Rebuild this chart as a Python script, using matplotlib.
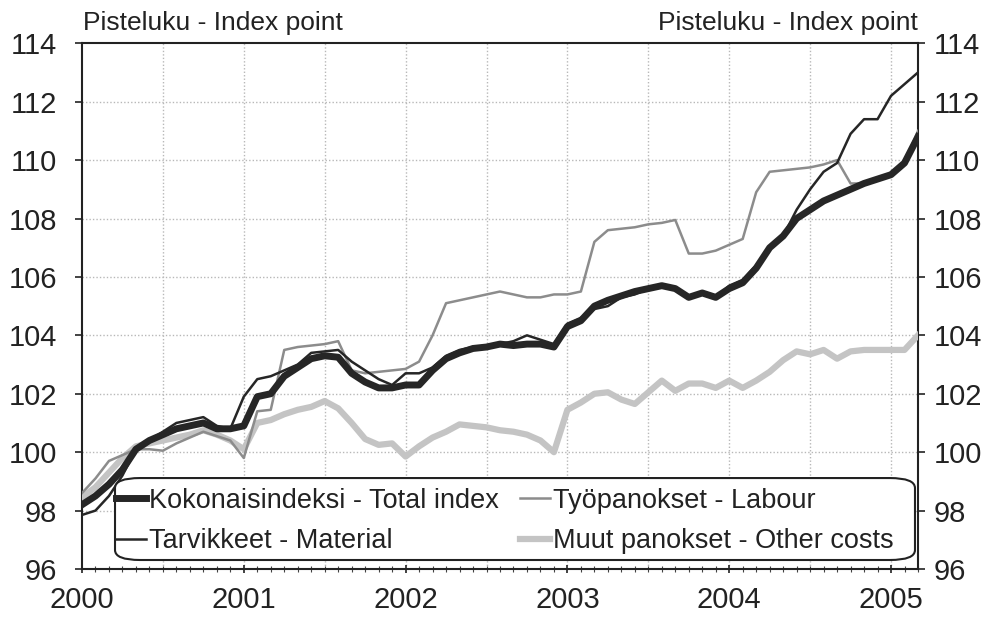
import matplotlib
matplotlib.use("Agg")
import matplotlib.pyplot as plt
from matplotlib.patches import FancyBboxPatch
import numpy as np

plt.rcParams['font.family'] = ['Liberation Sans', 'DejaVu Sans']

years = ["2000", "2001", "2002", "2003", "2004", "2005"]

total = [98.2, 98.5, 98.9, 99.4, 100.1, 100.4, 100.6, 100.8, 100.9, 101.0, 100.8, 100.8,
         100.9, 101.9, 102.0, 102.6, 102.9, 103.2, 103.3, 103.25, 102.7, 102.4, 102.2, 102.2,
         102.3, 102.3, 102.8, 103.2, 103.4, 103.55, 103.6, 103.7, 103.65, 103.7, 103.7, 103.6,
         104.3, 104.5, 105.0, 105.2, 105.35, 105.5, 105.6, 105.7, 105.6, 105.3, 105.45, 105.3,
         105.6, 105.8, 106.3, 107.0, 107.4, 108.0, 108.3, 108.6, 108.8, 109.0, 109.2, 109.35,
         109.5, 109.9, 110.8]

material = [97.85, 98.0, 98.5, 99.2, 100.1, 100.4, 100.7, 101.0, 101.1, 101.2, 100.9, 100.8,
            101.9, 102.5, 102.6, 102.8, 103.0, 103.4, 103.45, 103.5, 103.1, 102.8, 102.5, 102.3,
            102.7, 102.7, 102.9, 103.3, 103.5, 103.6, 103.65, 103.7, 103.8, 104.0, 103.85, 103.7,
            104.4, 104.6, 104.9, 105.0, 105.3, 105.4, 105.6, 105.7, 105.6, 105.3, 105.4, 105.3,
            105.7, 105.9, 106.4, 107.0, 107.4, 108.3, 109.0, 109.6, 109.9, 110.9, 111.4, 111.4,
            112.2, 112.6, 113.0]

labour = [98.6, 99.1, 99.7, 99.9, 100.1, 100.1, 100.05, 100.3, 100.5, 100.7, 100.55, 100.4,
          99.8, 101.4, 101.45, 103.5, 103.6, 103.65, 103.7, 103.8, 102.8, 102.7, 102.75, 102.8,
          102.85, 103.1, 104.0, 105.1, 105.2, 105.3, 105.4, 105.5, 105.4, 105.3, 105.3, 105.4,
          105.4, 105.5, 107.2, 107.6, 107.65, 107.7, 107.8, 107.85, 107.95, 106.8, 106.8, 106.9,
          107.1, 107.3, 108.9, 109.6, 109.65, 109.7, 109.75, 109.85, 110.0, 109.2, 109.2, 109.35,
          109.45, 109.9, 111.0]

other = [98.45, 98.8, 99.3, 99.8, 100.2, 100.3, 100.4, 100.5, 100.6, 100.75, 100.6, 100.4,
         100.1, 101.0, 101.1, 101.3, 101.45, 101.55, 101.75, 101.5, 101.0, 100.45, 100.25, 100.3,
         99.85, 100.2, 100.5, 100.7, 100.95, 100.9, 100.85, 100.75, 100.7, 100.6, 100.4, 100.0,
         101.45, 101.7, 102.0, 102.05, 101.8, 101.65, 102.05, 102.45, 102.1, 102.35, 102.35, 102.2,
         102.45, 102.2, 102.45, 102.75, 103.15, 103.45, 103.35, 103.5, 103.2, 103.45, 103.5, 103.5,
         103.5, 103.5, 104.0]

months = np.arange(len(total))
txt = '#222222'

fig = plt.figure(figsize=(9.95, 6.18), dpi=100)
ax = fig.add_axes([0.0824, 0.0793, 0.8402, 0.8507])

l_other, = ax.plot(months, other, color='#c4c4c4', lw=4.5, zorder=3,
                   label='Muut panokset - Other costs')
l_lab, = ax.plot(months, labour, color='#8c8c8c', lw=1.8, zorder=4, label='Työpanokset - Labour')
l_mat, = ax.plot(months, material, color='#262626', lw=1.8, zorder=6, label='Tarvikkeet - Material')
l_tot, = ax.plot(months, total, color='#262626', lw=5, zorder=5, label='Kokonaisindeksi - Total index')

yticks = np.arange(96, 115, 2)
ax.set_xlim(0, 62)
ax.set_ylim(96, 114)
ax.set_yticks(yticks)
ax.set_xticks(np.arange(0, 61, 12))
ax.set_xticklabels(years)
ax.set_xticks(np.arange(0, 63, 1), minor=True)

for v in np.arange(98, 114, 2):
    ax.axhline(v, color='#b8b8b8', lw=1.0, ls=(0, (1, 1.5)), zorder=1)
for m in np.arange(6, 62, 6):
    ax.axvline(m, color='#b8b8b8', lw=1.0, ls=(0, (1, 1.5)), zorder=1)

ax.tick_params(axis='both', which='major', labelsize=21, colors=txt, length=5, width=1.2,
               direction='out')
ax.tick_params(axis='y', which='major', pad=13)
ax.tick_params(axis='x', which='minor', length=4, width=0.8, direction='inout', colors='#444444')
ax.tick_params(axis='x', which='major', direction='inout', length=6, pad=9)
for s in ax.spines.values():
    s.set_color('#222222')
    s.set_linewidth(1.5)

ax2 = ax.twinx()
ax2.set_ylim(96, 114)
ax2.set_yticks(yticks)
ax2.tick_params(axis='y', labelsize=21, colors=txt, length=5, width=1.2, direction='out', pad=6)
for s in ax2.spines.values():
    s.set_visible(False)

fig.text(0.0834, 0.951, 'Pisteluku - Index point', fontsize=19, color=txt, ha='left', va='baseline')
fig.text(0.9226, 0.951, 'Pisteluku - Index point', fontsize=19, color=txt, ha='right', va='baseline')

box = FancyBboxPatch((0.0395, 0.0171), 0.9569, 0.1559,
                     boxstyle='round,pad=0,rounding_size=0.03',
                     transform=ax.transAxes, facecolor='white', edgecolor='#222222',
                     lw=1.5, zorder=9, mutation_aspect=526 / 836)
ax.add_patch(box)

leg = ax.legend(handles=[l_tot, l_mat, l_lab, l_other], ncol=2, loc='upper left',
                bbox_to_anchor=(0.041, 0.155), fontsize=19.5, frameon=False,
                handlelength=1.1, handletextpad=0.1, borderpad=0.0, borderaxespad=0.0,
                labelspacing=0.55, columnspacing=0.8)
for t in leg.get_texts():
    t.set_color(txt)
leg.set_zorder(10)

fig.savefig('out.png', dpi=100, facecolor='white')
